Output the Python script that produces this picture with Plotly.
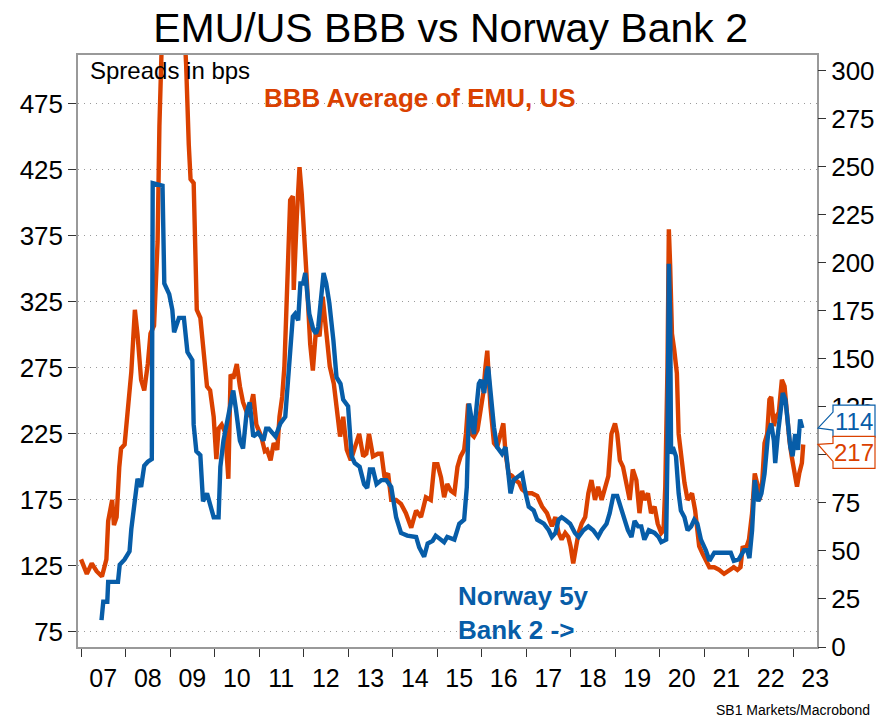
import pandas as pd
import plotly.graph_objects as go

# ---- data (decimal year, spread in bps) ----
bbb_t = [2007.00, 2007.13, 2007.24, 2007.35, 2007.47, 2007.57, 2007.61, 2007.66, 2007.70, 2007.74,
         2007.80, 2007.86, 2007.90, 2007.98, 2008.05, 2008.13, 2008.21, 2008.27, 2008.35, 2008.42,
         2008.50, 2008.56, 2008.64, 2008.72, 2008.76, 2008.80, 2008.88, 2008.97, 2009.10, 2009.25,
         2009.36, 2009.42, 2009.46, 2009.53, 2009.60, 2009.68, 2009.76, 2009.83, 2009.90, 2009.98,
         2010.04, 2010.09, 2010.16, 2010.24, 2010.31, 2010.36, 2010.42, 2010.50, 2010.57, 2010.64,
         2010.76, 2010.87, 2010.94, 2011.05, 2011.13, 2011.18, 2011.26, 2011.33, 2011.41, 2011.46,
         2011.52, 2011.57, 2011.61, 2011.64, 2011.70, 2011.76, 2011.78, 2011.85, 2011.91, 2011.96,
         2012.01, 2012.07, 2012.15, 2012.21, 2012.28, 2012.36, 2012.43, 2012.51, 2012.59, 2012.68,
         2012.76, 2012.82, 2012.89, 2012.97, 2013.06, 2013.15, 2013.25, 2013.34, 2013.41, 2013.47,
         2013.56, 2013.67, 2013.75, 2013.82, 2013.90, 2013.97, 2014.08, 2014.19, 2014.30, 2014.42,
         2014.53, 2014.64, 2014.75, 2014.86, 2014.94, 2015.01, 2015.09, 2015.16, 2015.23, 2015.31,
         2015.39, 2015.46, 2015.53, 2015.61, 2015.65, 2015.70, 2015.77, 2015.83, 2015.91, 2015.98,
         2016.04, 2016.09, 2016.13, 2016.17, 2016.20, 2016.28, 2016.35, 2016.43, 2016.49, 2016.54,
         2016.61, 2016.69, 2016.76, 2016.84, 2016.91, 2017.02, 2017.13, 2017.25, 2017.36, 2017.47,
         2017.58, 2017.66, 2017.73, 2017.80, 2017.88, 2017.95, 2018.00, 2018.06, 2018.12, 2018.18,
         2018.25, 2018.33, 2018.40, 2018.47, 2018.55, 2018.62, 2018.70, 2018.77, 2018.85, 2018.92,
         2019.00, 2019.05, 2019.11, 2019.18, 2019.26, 2019.33, 2019.40, 2019.48, 2019.55, 2019.61,
         2019.66, 2019.74, 2019.81, 2019.89, 2019.96, 2020.04, 2020.09, 2020.13, 2020.18, 2020.21,
         2020.24, 2020.28, 2020.33, 2020.39, 2020.43, 2020.48, 2020.56, 2020.63, 2020.73, 2020.80,
         2020.89, 2020.97, 2021.04, 2021.12, 2021.23, 2021.34, 2021.45, 2021.56, 2021.67, 2021.75,
         2021.82, 2021.87, 2021.93, 2022.01, 2022.08, 2022.14, 2022.19, 2022.25, 2022.31, 2022.36,
         2022.42, 2022.47, 2022.51, 2022.57, 2022.62, 2022.68, 2022.75, 2022.81, 2022.86, 2022.92,
         2022.97, 2023.03, 2023.09, 2023.14, 2023.20, 2023.23]
bbb_v = [130, 119, 127, 121, 117, 130, 159, 170, 175, 156,
         162, 200, 214, 217, 240, 272, 319, 300, 266, 258,
         278, 301, 307, 371, 458, 530, 600, 650, 640, 580,
         505, 444, 418, 415, 319, 313, 287, 261, 258, 238,
         206, 229, 232, 226, 191, 270, 267, 278, 261, 249,
         238, 255, 232, 223, 212, 213, 205, 218, 213, 238,
         253, 276, 314, 339, 402, 405, 334, 390, 427, 407,
         382, 344, 293, 273, 304, 299, 329, 306, 276, 263,
         243, 223, 238, 213, 205, 215, 225, 208, 210, 225,
         208, 210, 210, 192, 195, 175, 175, 172, 165, 154,
         167, 162, 177, 175, 202, 202, 192, 177, 187, 182,
         180, 200, 208, 213, 225, 248, 225, 223, 228, 243,
         256, 276, 288, 263, 246, 218, 215, 225, 233, 210,
         195, 193, 190, 188, 183, 180, 180, 178, 170, 165,
         155, 162, 150, 145, 150, 147, 140, 127, 140, 150,
         157, 162, 180, 190, 175, 185, 175, 185, 193, 225,
         233, 225, 205, 200, 185, 175, 198, 190, 165, 182,
         175, 180, 165, 170, 157, 150, 152, 185, 276, 380,
         352, 301, 289, 271, 225, 208, 188, 175, 180, 167,
         140, 134, 129, 124, 124, 122, 119, 122, 124, 122,
         124, 140, 137, 145, 165, 195, 188, 175, 190, 218,
         225, 251, 253, 231, 238, 241, 266, 261, 241, 220,
         208, 195, 185, 195, 203, 217]

nor_t = [2007.46, 2007.50, 2007.59, 2007.61, 2007.83, 2007.87, 2007.98, 2008.09, 2008.13, 2008.20,
         2008.27, 2008.35, 2008.42, 2008.50, 2008.59, 2008.61, 2008.83, 2008.87, 2008.98, 2009.05,
         2009.09, 2009.20, 2009.31, 2009.39, 2009.50, 2009.53, 2009.59, 2009.68, 2009.74, 2009.83,
         2009.90, 2009.98, 2010.09, 2010.13, 2010.20, 2010.27, 2010.35, 2010.42, 2010.48, 2010.57,
         2010.64, 2010.72, 2010.79, 2010.87, 2010.98, 2011.10, 2011.16, 2011.22, 2011.37, 2011.48,
         2011.59, 2011.64, 2011.70, 2011.76, 2011.81, 2011.88, 2011.93, 2011.99, 2012.04, 2012.07,
         2012.13, 2012.22, 2012.28, 2012.33, 2012.39, 2012.45, 2012.51, 2012.58, 2012.67, 2012.74,
         2012.83, 2012.89, 2013.00, 2013.08, 2013.15, 2013.26, 2013.36, 2013.43, 2013.49, 2013.56,
         2013.64, 2013.75, 2013.86, 2013.97, 2014.08, 2014.19, 2014.33, 2014.53, 2014.60, 2014.71,
         2014.79, 2014.90, 2014.97, 2015.05, 2015.16, 2015.23, 2015.39, 2015.50, 2015.61, 2015.67,
         2015.72, 2015.77, 2015.83, 2015.89, 2015.94, 2015.99, 2016.06, 2016.12, 2016.15, 2016.20,
         2016.28, 2016.35, 2016.46, 2016.54, 2016.61, 2016.65, 2016.72, 2016.84, 2016.91, 2016.99,
         2017.06, 2017.17, 2017.25, 2017.40, 2017.51, 2017.58, 2017.66, 2017.73, 2017.80, 2017.88,
         2017.99, 2018.10, 2018.18, 2018.29, 2018.40, 2018.51, 2018.62, 2018.70, 2018.81, 2018.88,
         2018.96, 2019.05, 2019.12, 2019.18, 2019.29, 2019.37, 2019.44, 2019.52, 2019.59, 2019.66,
         2019.76, 2019.89, 2019.98, 2020.04, 2020.15, 2020.18, 2020.21, 2020.24, 2020.26, 2020.30,
         2020.37, 2020.43, 2020.48, 2020.56, 2020.63, 2020.71, 2020.78, 2020.85, 2020.93, 2021.04,
         2021.12, 2021.23, 2021.41, 2021.60, 2021.67, 2021.78, 2021.90, 2021.97, 2022.02, 2022.08,
         2022.14, 2022.22, 2022.29, 2022.36, 2022.44, 2022.51, 2022.57, 2022.60, 2022.66, 2022.72,
         2022.77, 2022.83, 2022.89, 2022.94, 2022.99, 2023.05, 2023.11, 2023.16, 2023.21]
nor_v = [14.0, 23.6, 23.6, 33.9, 33.9, 42.9, 45.6, 49.8, 61.4, 75.9,
         87.6, 83.4, 94.4, 96.5, 97.9, 241.6, 240.2, 189.3, 183.8, 175.6,
         163.9, 171.4, 171.4, 153.6, 149.4, 115.8, 102.0, 99.9, 75.9, 80.0,
         73.8, 67.6, 67.6, 93.8, 107.5, 115.8, 124.0, 133.6, 124.0, 107.5,
         103.4, 121.9, 127.4, 109.6, 111.6, 107.5, 113.7, 113.7, 109.6, 116.4,
         119.9, 137.1, 154.9, 172.1, 173.5, 170.1, 189.3, 189.3, 194.8, 187.9,
         173.5, 165.3, 163.2, 166.6, 182.4, 194.8, 189.3, 179.0, 159.8, 140.5,
         137.1, 128.8, 125.4, 99.3, 95.8, 93.8, 84.8, 82.8, 92.4, 92.4,
         84.8, 86.9, 86.9, 83.4, 67.6, 59.4, 58.0, 57.3, 51.8, 47.0,
         53.9, 55.3, 58.0, 56.6, 54.6, 57.3, 55.9, 64.2, 66.3, 83.4,
         126.8, 119.9, 110.9, 125.4, 137.1, 139.1, 132.3, 143.9, 146.0, 133.6,
         114.4, 104.1, 100.6, 104.1, 90.3, 80.0, 86.9, 88.9, 90.3, 80.0,
         73.1, 71.1, 66.3, 64.2, 60.8, 57.3, 59.4, 66.3, 67.6, 66.3,
         64.2, 59.4, 57.3, 60.8, 62.8, 60.8, 57.3, 60.8, 64.2, 69.7,
         78.6, 78.6, 73.1, 67.6, 60.8, 57.3, 65.6, 62.8, 62.8, 55.9,
         60.8, 59.4, 57.3, 54.6, 55.9, 102.7, 199.6, 172.1, 100.6, 104.1,
         99.3, 80.0, 71.1, 67.6, 60.8, 62.8, 66.3, 64.2, 55.9, 50.4,
         44.9, 49.1, 49.1, 49.1, 44.9, 45.6, 50.4, 50.4, 46.3, 60.8,
         86.9, 75.9, 80.0, 90.3, 110.9, 116.4, 107.5, 95.8, 110.9, 125.4,
         132.3, 128.8, 115.1, 104.1, 99.3, 110.9, 102.7, 118.5, 114.0]

left_ticks = [75, 125, 175, 225, 275, 325, 375, 425, 475]
right_ticks = [0, 25, 50, 75, 100, 125, 150, 175, 200, 225, 250, 275, 300]

ORANGE = "#DA4100"
BLUE = "#075DA8"
FONT = "Liberation Sans, Arial, sans-serif"


def to_dates(ts):
    out = []
    for t in ts:
        y = int(t)
        start = pd.Timestamp(year=y, month=1, day=1)
        end = pd.Timestamp(year=y + 1, month=1, day=1)
        out.append(start + (end - start) * (t - y))
    return out


fig = go.Figure()
fig.add_trace(go.Scatter(x=to_dates(bbb_t), y=bbb_v, mode="lines",
                         line=dict(color=ORANGE, width=4.4), name="BBB Average of EMU, US",
                         yaxis="y"))
fig.add_trace(go.Scatter(x=to_dates(nor_t), y=nor_v, mode="lines",
                         line=dict(color=BLUE, width=4.4), name="Norway 5y Bank 2",
                         yaxis="y2"))

fig.update_layout(
    width=887, height=717,
    margin=dict(l=78, r=65, t=55, b=70),
    paper_bgcolor="white", plot_bgcolor="white",
    showlegend=False,
    font=dict(family=FONT, color="black"),
    title=dict(text="EMU/US BBB vs Norway Bank 2", x=0.508, xanchor="center",
               y=0.962, yanchor="middle", yref="container",
               font=dict(size=41, family=FONT, color="black")),
    xaxis=dict(
        type="date",
        range=[pd.Timestamp("2006-12-07"), pd.Timestamp("2023-07-17")],
        tick0="2007-01-01", dtick="M12", tickformat="%y", ticklabelmode="period",
        ticks="outside", ticklen=8, tickcolor="#333333", tickwidth=1,
        showgrid=False, showline=True, linecolor="#999999", linewidth=1.5, mirror=True,
        tickfont=dict(size=25, family=FONT, color="black"),
        zeroline=False,
    ),
    yaxis=dict(
        range=[63.6, 512], tickvals=left_ticks, ticktext=[str(v) for v in left_ticks],
        ticks="outside", ticklen=8, tickcolor="#333333",
        showgrid=True, gridcolor="#9a9a9a", griddash="1px,5px", gridwidth=1.2,
        showline=True, linecolor="#999999", linewidth=1.5, mirror=True,
        tickfont=dict(size=26, family=FONT, color="black"), zeroline=False,
    ),
    yaxis2=dict(
        range=[0, 308.3], tickvals=right_ticks, ticktext=[str(v) for v in right_ticks],
        overlaying="y", side="right",
        ticks="outside", ticklen=8, tickcolor="#333333",
        showgrid=False, showline=False, zeroline=False,
        tickfont=dict(size=26, family=FONT, color="black"),
    ),
)

fig.add_annotation(text="Spreads in bps", xref="paper", yref="paper", x=0.014, y=0.973,
                   xanchor="left", yanchor="middle", showarrow=False,
                   font=dict(size=24, family=FONT, color="black"))
fig.add_annotation(text="<b>BBB Average of EMU, US</b>", xref="paper", yref="paper",
                   x=0.2487, y=0.927, xanchor="left", yanchor="middle", showarrow=False,
                   font=dict(size=26, family=FONT, color=ORANGE))
fig.add_annotation(text="<b>Norway 5y<br>Bank 2 -></b>", xref="paper", yref="paper",
                   x=0.512, y=0.057, xanchor="left", yanchor="middle", align="left",
                   showarrow=False, font=dict(size=26, family=FONT, color=BLUE))
fig.add_annotation(text="SB1 Markets/Macrobond", xref="paper", yref="paper",
                   x=1.075, y=-0.106, xanchor="right", yanchor="middle", showarrow=False,
                   font=dict(size=14, family=FONT, color="black"))

# last value tags (boxes nudged apart so they do not overlap)
def tag_path(dy):
    pts = [(1, 0), (16, 9 + dy), (16, 16 + dy), (58, 16 + dy), (58, -16 + dy),
           (16, -16 + dy), (16, -9 + dy)]
    return "M " + " L ".join(f"{x},{y}" for x, y in pts) + " Z"


for yref, val, col, dy in [("y2", nor_v[-1], BLUE, 7), ("y", bbb_v[-1], ORANGE, -8)]:
    fig.add_shape(type="path", path=tag_path(dy), xref="paper", xsizemode="pixel", xanchor=1,
                  yref=yref, ysizemode="pixel", yanchor=val,
                  line=dict(color=col, width=1.2), fillcolor="white", layer="above")
    fig.add_annotation(text=f"{val:.0f}", xref="paper", yref=yref, x=1, y=val,
                       xshift=37, yshift=dy, xanchor="center", yanchor="middle",
                       showarrow=False, font=dict(size=24, family=FONT, color=col))

fig.write_html("out.html", config={"displayModeBar": False},
               post_script="document.body.style.margin='0px';document.body.style.overflow='hidden';")
